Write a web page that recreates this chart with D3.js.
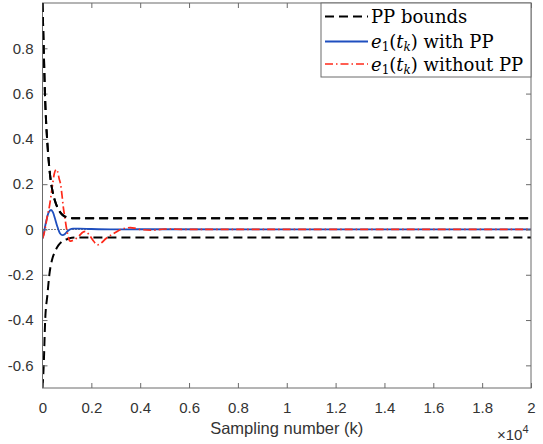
<!DOCTYPE html>
<html><head><meta charset="utf-8">
<script src="https://cdn.jsdelivr.net/npm/d3@7"></script>
<style>body{margin:0;background:#fff}svg{display:block}</style>
</head><body>
<svg id="c" width="543" height="444"></svg>
<script>
// sampling number k, values
const upperBound = [[0,1.0],[50,0.8],[100,0.6],[150,0.47],[200,0.38],[300,0.25],[400,0.175],[500,0.13],[600,0.1],[700,0.08],[800,0.066],[900,0.058],[1000,0.054],[1200,0.05],[1500,0.05],[20000,0.05]];
const lowerBound = [[0,-0.7],[50,-0.6],[110,-0.4],[200,-0.29],[280,-0.2],[400,-0.13],[500,-0.1],[650,-0.07],[800,-0.053],[1000,-0.043],[1200,-0.037],[1500,-0.035],[20000,-0.035]];
const withPP = [[0,-0.04],[50,-0.02],[100,0.01],[170,0.045],[250,0.075],[350,0.086],[430,0.075],[520,0.045],[600,0.015],[650,0.0],[720,-0.018],[820,-0.025],[920,-0.02],[1020,-0.008],[1120,0.0],[1250,0.004],[1500,0.004],[2000,0.002],[3000,0.0],[4000,0.001],[20000,0.0]];
const withoutPP = [[0,-0.04],[60,-0.02],[120,0.01],[200,0.06],[280,0.1],[350,0.15],[415,0.2],[480,0.245],[560,0.265],[620,0.255],[680,0.225],[740,0.2],[800,0.15],[850,0.1],[920,0.05],[990,0.0],[1060,-0.035],[1120,-0.052],[1200,-0.05],[1350,-0.042],[1500,-0.028],[1650,-0.012],[1750,-0.008],[1900,-0.022],[2050,-0.045],[2250,-0.068],[2400,-0.06],[2600,-0.04],[2800,-0.025],[3000,-0.012],[3200,0.0],[3400,0.006],[3600,0.008],[3800,0.005],[4000,0.0],[4500,-0.003],[5000,0.002],[6000,0.0],[20000,0.0]];
const xTicks = [0,2000,4000,6000,8000,10000,12000,14000,16000,18000,20000];
const xTickLabels = ["0","0.2","0.4","0.6","0.8","1","1.2","1.4","1.6","1.8","2"];
const yTicks = [-0.6,-0.4,-0.2,0,0.2,0.4,0.6,0.8];
const yTickLabels = ["-0.6","-0.4","-0.2","0","0.2","0.4","0.6","0.8"];

const L=42.5,R=531,T=3,B=388;
const svg=d3.select("#c");
const x=d3.scaleLinear().domain([0,20000]).range([L,R]);
const y=d3.scaleLinear().domain([-0.7,1.0]).range([B,T]);
const axCol="#6b6b6b", txtCol="#333";
const sans="Liberation Sans, Arial, sans-serif";

svg.append("clipPath").attr("id","pc").append("rect").attr("x",L).attr("y",T).attr("width",R-L).attr("height",B-T);
const g=svg.append("g").attr("clip-path","url(#pc)");
const line=d3.line().x(d=>x(d[0])).y(d=>y(d[1])).curve(d3.curveMonotoneX);

// zero dotted reference
g.append("line").attr("x1",L).attr("x2",R).attr("y1",y(0)).attr("y2",y(0))
 .attr("stroke","#000").attr("stroke-width",1).attr("stroke-dasharray","1,2");
g.append("path").datum(upperBound).attr("d",line).attr("fill","none").attr("stroke","#000").attr("stroke-width",2).attr("stroke-dasharray","9,5");
g.append("path").datum(lowerBound).attr("d",line).attr("fill","none").attr("stroke","#000").attr("stroke-width",2).attr("stroke-dasharray","9,5");
g.append("path").datum(withPP).attr("d",line).attr("fill","none").attr("stroke","#1f4fbf").attr("stroke-width",1.8);
g.append("path").datum(withoutPP).attr("d",line).attr("fill","none").attr("stroke","#ff2a1a").attr("stroke-width",1.7).attr("stroke-dasharray","8,3,1.5,3");

// axes
const fmtX=d=>xTickLabels[xTicks.indexOf(d)];
const fmtY=d=>yTickLabels[yTicks.indexOf(d)];
function style(a){a.select(".domain").remove();a.selectAll("line").attr("stroke",axCol);a.selectAll("text").attr("fill",txtCol).attr("font-family",sans).attr("font-size",15);}
svg.append("g").attr("transform",`translate(0,${B})`).call(d3.axisBottom(x).tickValues(xTicks).tickFormat(fmtX).tickSizeInner(-5).tickSizeOuter(0).tickPadding(14)).call(style);
svg.append("g").attr("transform",`translate(0,${T})`).call(d3.axisTop(x).tickValues(xTicks).tickFormat("").tickSizeInner(-5).tickSizeOuter(0)).call(style);
svg.append("g").attr("transform",`translate(${L},0)`).call(d3.axisLeft(y).tickValues(yTicks).tickFormat(fmtY).tickSizeInner(-5).tickSizeOuter(0).tickPadding(9)).call(style);
svg.append("g").attr("transform",`translate(${R},0)`).call(d3.axisRight(y).tickValues(yTicks).tickFormat("").tickSizeInner(-5).tickSizeOuter(0)).call(style);
svg.append("rect").attr("x",L).attr("y",T).attr("width",R-L).attr("height",B-T).attr("fill","none").attr("stroke",axCol).attr("stroke-width",1);
svg.append("path").datum(upperBound).attr("d",line).attr("fill","none").attr("stroke","#000").attr("stroke-width",2).attr("stroke-dasharray","9,5").attr("clip-path","url(#pc)");

svg.append("text").attr("x",(L+R)/2).attr("y",434).attr("text-anchor","middle").attr("fill",txtCol)
 .attr("font-family",sans).attr("font-size",16.5).text("Sampling number (k)");
const ex=svg.append("text").attr("x",497).attr("y",440).attr("fill",txtCol).attr("font-family",sans).attr("font-size",15);
ex.append("tspan").text("×10");
ex.append("tspan").attr("dy",-7).attr("font-size",11).text("4");

// legend
const lg=svg.append("g");
lg.append("rect").attr("x",321).attr("y",T).attr("width",R-321).attr("height",77-T).attr("fill","#fff").attr("stroke",axCol).attr("stroke-width",1);
const rows=[{y:16.5,stroke:"#000",w:2,dash:"9,5"},{y:41.5,stroke:"#1f4fbf",w:1.8,dash:null},{y:64,stroke:"#ff2a1a",w:1.7,dash:"8,3,1.5,3"}];
rows.forEach(r=>{lg.append("line").attr("x1",325).attr("x2",368).attr("y1",r.y).attr("y2",r.y).attr("stroke",r.stroke).attr("stroke-width",r.w).attr("stroke-dasharray",r.dash);});
const ff="DejaVu Serif, serif", fs=18;
lg.append("text").attr("x",371).attr("y",22.5).attr("font-family",ff).attr("font-size",fs).text("PP bounds");
function eText(yy,suffix){
 const t=lg.append("text").attr("x",371).attr("y",yy).attr("font-family",ff).attr("font-size",fs);
 t.append("tspan").attr("font-style","italic").text("e");
 t.append("tspan").attr("font-size",12).attr("dy",3).text("1");
 t.append("tspan").attr("dy",-3).text("(");
 t.append("tspan").attr("font-style","italic").text("t");
 t.append("tspan").attr("font-style","italic").attr("font-size",12).attr("dy",3).text("k");
 t.append("tspan").attr("dy",-3).text(")"+suffix);
}
eText(47.5," with PP");
eText(70.5," without PP");
</script>
</body></html>
